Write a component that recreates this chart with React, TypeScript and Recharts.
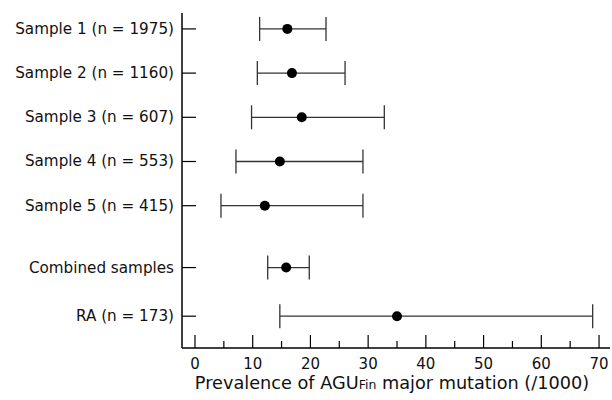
import React from 'react';
import { ScatterChart, Scatter, XAxis, YAxis, ErrorBar } from 'recharts';

const labels = [
  'Sample 1 (n = 1975)',
  'Sample 2 (n = 1160)',
  'Sample 3 (n = 607)',
  'Sample 4 (n = 553)',
  'Sample 5 (n = 415)',
  'Combined samples',
  'RA (n = 173)',
];
// row order along the y scale (gap before the combined estimate)
const rows = [1, 2, 3, 4, 5, 6.4, 7.5];
const estimates = [16.0, 16.8, 18.5, 14.7, 12.1, 15.8, 35.0];
const lower = [11.2, 10.8, 9.8, 7.1, 4.5, 12.6, 14.7];
const upper = [22.7, 26.0, 32.8, 29.1, 29.1, 19.8, 68.9];
const xTicks = [0, 5, 10, 15, 20, 25, 30, 35, 40, 45, 50, 55, 60, 65, 70];

const data = rows.map((row, i) => ({
  row,
  value: estimates[i],
  ci: [estimates[i] - lower[i], upper[i] - estimates[i]],
}));

const FONT = '"DejaVu Sans", sans-serif';

const YTick = (props: any) => {
  const { x, y, payload } = props;
  const idx = rows.indexOf(payload.value);
  return (
    <g>
      <line x1={x + 8} x2={x + 22} y1={y} y2={y} stroke="#000" strokeWidth={1.2} />
      <text x={x} y={y} dy={5} textAnchor="end" fontFamily={FONT} fontSize={15.2} fill="#111">
        {labels[idx]}
      </text>
    </g>
  );
};

const XTick = (props: any) => {
  const { x, y, payload } = props;
  const major = payload.value % 10 === 0;
  const base = y - 8;
  return (
    <g>
      <line x1={x} x2={x} y1={base} y2={base - (major ? 13 : 7)} stroke="#000" strokeWidth={1.2} />
      {major && (
        <text x={x} y={y} dy={13} textAnchor="middle" fontFamily={FONT} fontSize={15} fill="#111">
          {payload.value}
        </text>
      )}
    </g>
  );
};

const XLabel = (props: any) => {
  const { viewBox } = props;
  const cx = viewBox.x + viewBox.width / 2 - 4;
  return (
    <text x={cx} y={viewBox.y + 41} textAnchor="middle" fontFamily={FONT} fontSize={17.7} fill="#111">
      Prevalence of AGU
      <tspan fontSize={12.5}>Fin</tspan>
      <tspan> major mutation (/1000)</tspan>
    </text>
  );
};

const Dot = (props: any) => <circle cx={props.cx} cy={props.cy} r={5} fill="#000" />;

export default function App() {
  return (
    <div style={{ width: 612, height: 400, background: '#fff' }}>
      <style>{'body{margin:0}'}</style>
      <ScatterChart width={612} height={400} margin={{ top: 13, right: 2, bottom: 0, left: 0 }}>
        <XAxis
          type="number"
          dataKey="value"
          domain={[-2.25, 71.9]}
          ticks={xTicks}
          interval={0}
          allowDataOverflow
          height={52}
          tickSize={0}
          tickMargin={8}
          tick={<XTick />}
          axisLine={{ stroke: '#000', strokeWidth: 1.5 }}
          label={{ content: <XLabel /> }}
        />
        <YAxis
          type="number"
          dataKey="row"
          domain={[0.64, 8.22]}
          reversed
          ticks={rows}
          interval={0}
          allowDataOverflow
          width={182}
          tickSize={0}
          tickMargin={8}
          tick={<YTick />}
          axisLine={{ stroke: '#000', strokeWidth: 1.5 }}
        />
        <Scatter data={data} shape={<Dot />} isAnimationActive={false}>
          <ErrorBar dataKey="ci" direction="x" width={12} stroke="#333" strokeWidth={1.3} />
        </Scatter>
      </ScatterChart>
    </div>
  );
}
